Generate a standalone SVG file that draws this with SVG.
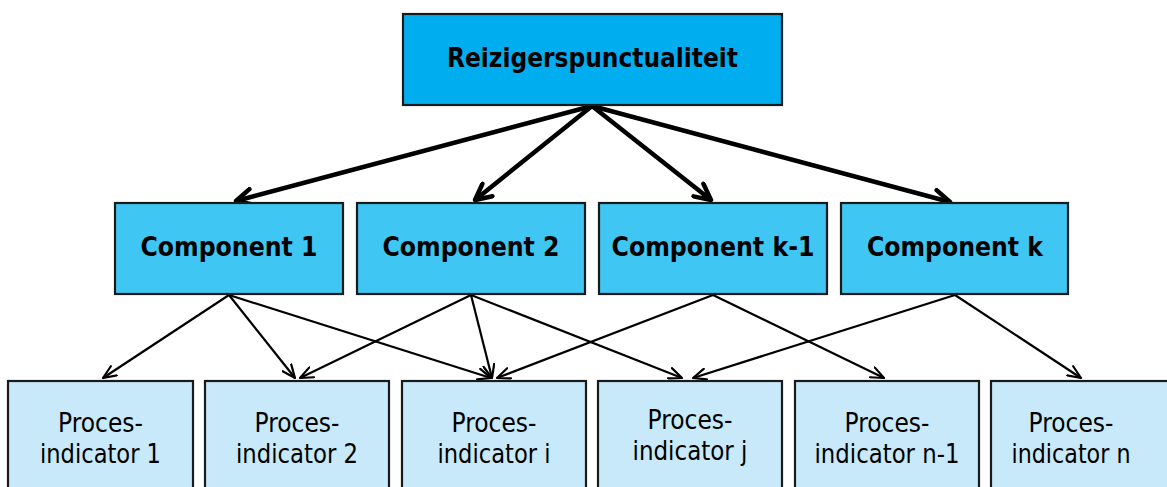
<svg xmlns="http://www.w3.org/2000/svg" width="1167" height="487" viewBox="0 0 1167 487">
  <style>
    .box { stroke: #1a1a1a; stroke-width: 2.2; }
    .top { fill: #00AEEF; }
    .comp { fill: #40C6F3; }
    .ind { fill: #C7E9F9; }
    .bold { font-family: "DejaVu Sans", Verdana, sans-serif; font-weight: bold; font-size: 26px; fill: #000; text-anchor: middle; }
    .reg { font-family: "DejaVu Sans", Verdana, sans-serif; font-size: 26px; fill: #000; text-anchor: middle; }
    .thick { stroke: #000; stroke-width: 4.5; fill: none; marker-end: url(#headThick); }
    .thin { stroke: #000; stroke-width: 2.2; fill: none; marker-end: url(#headThin); }
  </style>
  <defs>
    <marker id="headThick" markerUnits="userSpaceOnUse" viewBox="0 0 22 20" refX="19" refY="10" markerWidth="22" markerHeight="20" orient="auto">
      <path d="M3,2 L19,10 L3,18" fill="none" stroke="#000" stroke-width="4.5" stroke-linecap="round" stroke-linejoin="round"/>
    </marker>
    <marker id="headThin" markerUnits="userSpaceOnUse" viewBox="0 0 15 13" refX="14" refY="6.5" markerWidth="15" markerHeight="13" orient="auto">
      <path d="M1,1 L14,6.5 L1,12" fill="none" stroke="#000" stroke-width="2.2" stroke-linecap="round" stroke-linejoin="round"/>
    </marker>
  </defs>
  <rect width="1167" height="487" fill="#fff"/>

  <!-- connectors -->
  <g id="connectors">
    <line class="thick" x1="592" y1="106" x2="236" y2="201"/>
    <line class="thick" x1="592" y1="106" x2="475" y2="200"/>
    <line class="thick" x1="592" y1="106" x2="711" y2="200"/>
    <line class="thick" x1="592" y1="106" x2="950" y2="202"/>

    <line class="thin" x1="229" y1="295" x2="103" y2="378"/>
    <line class="thin" x1="229" y1="295" x2="295" y2="378"/>
    <line class="thin" x1="229" y1="295" x2="491" y2="378"/>
    <line class="thin" x1="471" y1="295" x2="300" y2="378"/>
    <line class="thin" x1="471" y1="295" x2="492" y2="378"/>
    <line class="thin" x1="471" y1="295" x2="682" y2="378"/>
    <line class="thin" x1="713" y1="295" x2="497" y2="378"/>
    <line class="thin" x1="713" y1="295" x2="884" y2="378"/>
    <line class="thin" x1="955" y1="295" x2="693" y2="378"/>
    <line class="thin" x1="955" y1="295" x2="1081" y2="378"/>
  </g>

  <!-- top level -->
  <g id="reizigerspunctualiteit">
    <rect class="box top" x="403" y="14" width="379" height="91"/>
    <text class="bold" x="592.5" y="66.5" textLength="291" lengthAdjust="spacingAndGlyphs">Reizigerspunctualiteit</text>
  </g>

  <!-- components -->
  <g id="component-1">
    <rect class="box comp" x="115" y="203" width="228" height="91"/>
    <text class="bold" x="229" y="256" textLength="177" lengthAdjust="spacingAndGlyphs">Component 1</text>
  </g>
  <g id="component-2">
    <rect class="box comp" x="357" y="203" width="228" height="91"/>
    <text class="bold" x="471" y="256" textLength="177" lengthAdjust="spacingAndGlyphs">Component 2</text>
  </g>
  <g id="component-k-1">
    <rect class="box comp" x="599" y="203" width="228" height="91"/>
    <text class="bold" x="713" y="256" textLength="203" lengthAdjust="spacingAndGlyphs">Component k-1</text>
  </g>
  <g id="component-k">
    <rect class="box comp" x="841" y="203" width="227" height="91"/>
    <text class="bold" x="955" y="256" textLength="176" lengthAdjust="spacingAndGlyphs">Component k</text>
  </g>

  <!-- process indicators -->
  <g id="indicator-1">
    <rect class="box ind" x="8" y="381" width="185" height="120"/>
    <text class="reg" x="100.5" y="431.5" textLength="85" lengthAdjust="spacingAndGlyphs">Proces-</text>
    <text class="reg" x="100.5" y="462.5" textLength="121" lengthAdjust="spacingAndGlyphs">indicator 1</text>
  </g>
  <g id="indicator-2">
    <rect class="box ind" x="205" y="381" width="184" height="120"/>
    <text class="reg" x="297" y="431.5" textLength="85" lengthAdjust="spacingAndGlyphs">Proces-</text>
    <text class="reg" x="297" y="462.5" textLength="122" lengthAdjust="spacingAndGlyphs">indicator 2</text>
  </g>
  <g id="indicator-i">
    <rect class="box ind" x="402" y="381" width="184" height="120"/>
    <text class="reg" x="494" y="431.5" textLength="85" lengthAdjust="spacingAndGlyphs">Proces-</text>
    <text class="reg" x="494" y="462.5" textLength="113" lengthAdjust="spacingAndGlyphs">indicator i</text>
  </g>
  <g id="indicator-j">
    <rect class="box ind" x="598" y="381" width="184" height="120"/>
    <text class="reg" x="690" y="429" textLength="85" lengthAdjust="spacingAndGlyphs">Proces-</text>
    <text class="reg" x="690" y="460" textLength="115" lengthAdjust="spacingAndGlyphs">indicator j</text>
  </g>
  <g id="indicator-n-1">
    <rect class="box ind" x="795" y="381" width="184" height="120"/>
    <text class="reg" x="887" y="431.5" textLength="85" lengthAdjust="spacingAndGlyphs">Proces-</text>
    <text class="reg" x="887" y="462.5" textLength="145" lengthAdjust="spacingAndGlyphs">indicator n-1</text>
  </g>
  <g id="indicator-n">
    <rect class="box ind" x="991" y="381" width="184" height="120"/>
    <text class="reg" x="1071" y="431.5" textLength="85" lengthAdjust="spacingAndGlyphs">Proces-</text>
    <text class="reg" x="1071" y="462.5" textLength="119" lengthAdjust="spacingAndGlyphs">indicator n</text>
  </g>
</svg>
